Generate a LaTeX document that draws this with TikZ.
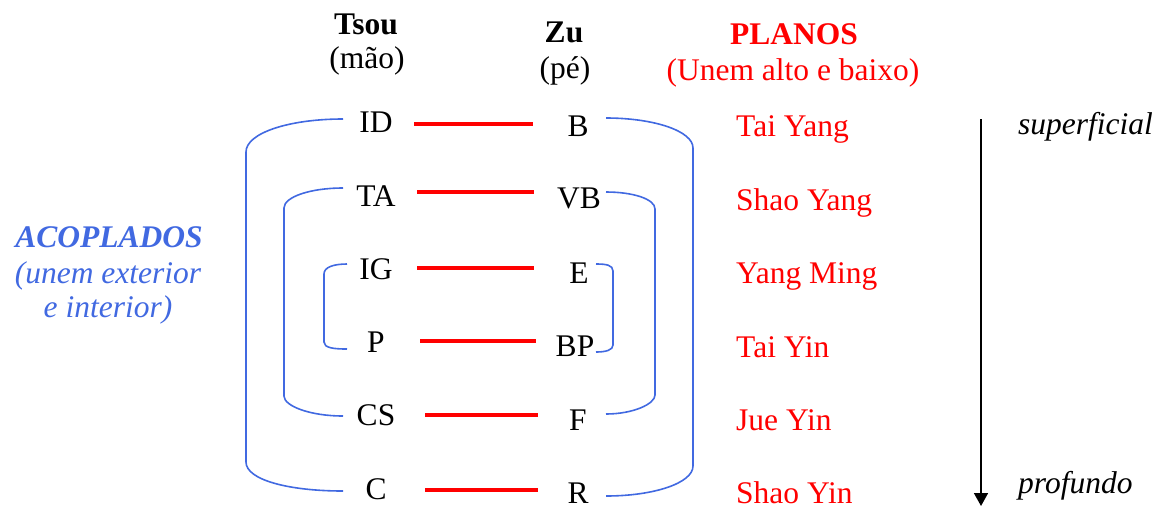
\documentclass[tikz,border=0pt]{standalone}
\usepackage{fontspec}
\setmainfont{Liberation Serif}
\usetikzlibrary{arrows.meta}
\definecolor{myblue}{RGB}{65,105,225}
\definecolor{myred}{RGB}{255,0,0}
\begin{document}
\begin{tikzpicture}[x=1pt,y=-1pt,
  every node/.style={inner sep=0pt,font=\fontsize{31.5}{36}\selectfont},
  lab/.style={anchor=base},
  plano/.style={anchor=base west,text=myred},
  redline/.style={draw=myred,line width=4.5pt},
  bracket/.style={draw=myblue,line width=1.6pt},
  depth/.style={draw=black,line width=1.6pt,-{Triangle[width=14pt,length=13pt]}}]
\useasboundingbox (0,0) rectangle (1166,507);
% headers
\node[lab,font=\fontsize{31.5}{36}\selectfont\bfseries] (tsou) at (366,34) {Tsou};
\node[lab] (mao) at (367,68) {(mão)};
\node[lab,font=\fontsize{31.5}{36}\selectfont\bfseries] (zu) at (564,42) {Zu};
\node[lab] (pe) at (565,78) {(pé)};
\node[lab,text=myred,font=\fontsize{31.5}{36}\selectfont\bfseries] (planos) at (794,44) {PLANOS};
\node[lab,text=myred] (unem) at (793,80) {(Unem alto e baixo)};
% left column
\node[lab] (ID) at (376,132) {ID};
\node[lab] (TA) at (376,206) {TA};
\node[lab] (IG) at (376,279) {IG};
\node[lab] (P) at (376,352) {P};
\node[lab] (CS) at (376,425) {CS};
\node[lab] (C) at (376,499) {C};
% right column
\node[lab] (B) at (578,136) {B};
\node[lab] (VB) at (579,208) {VB};
\node[lab] (E) at (579,283) {E};
\node[lab] (BP) at (575,356) {BP};
\node[lab] (F) at (578,430) {F};
\node[lab] (R) at (578,503) {R};
% planos
\node[plano] (p1) at (736,136) {Tai Yang};
\node[plano] (p2) at (736,210) {Shao Yang};
\node[plano] (p3) at (736,283) {Yang Ming};
\node[plano] (p4) at (736,357) {Tai Yin};
\node[plano] (p5) at (736,430) {Jue Yin};
\node[plano] (p6) at (736,503) {Shao Yin};
% acoplados
\node[lab,text=myblue,font=\fontsize{31.5}{36}\selectfont\bfseries\itshape] (acop) at (109,247) {ACOPLADOS};
\node[lab,text=myblue,font=\fontsize{31.5}{36}\selectfont\itshape] (acop2) at (108,283) {(unem exterior};
\node[lab,text=myblue,font=\fontsize{31.5}{36}\selectfont\itshape] (acop3) at (108,317) {e interior)};
% depth labels
\node[anchor=base west,font=\fontsize{31.5}{36}\selectfont\itshape] (sup) at (1018,134) {superficial};
\node[anchor=base west,font=\fontsize{31.5}{36}\selectfont\itshape] (prof) at (1018,493) {profundo};
% red connectors
\coordinate (r1a) at (414,124); \coordinate (r1b) at (533,124);
\coordinate (r2a) at (417,192); \coordinate (r2b) at (534,192);
\coordinate (r3a) at (417,268); \coordinate (r3b) at (534,268);
\coordinate (r4a) at (420,341); \coordinate (r4b) at (536,341);
\coordinate (r5a) at (425,415); \coordinate (r5b) at (538,415);
\coordinate (r6a) at (425,490); \coordinate (r6b) at (538,490);
\draw[redline] (r1a) -- (r1b);
\draw[redline] (r2a) -- (r2b);
\draw[redline] (r3a) -- (r3b);
\draw[redline] (r4a) -- (r4b);
\draw[redline] (r5a) -- (r5b);
\draw[redline] (r6a) -- (r6b);
% left brackets
\draw[bracket] (343,119) .. controls (289,119) and (246,133) .. (246,152) -- (246,462) .. controls (246,480) and (289,491) .. (343,491);
\draw[bracket] (343,188) .. controls (310,188) and (284,197) .. (284,208) -- (284,396) .. controls (284,406) and (310,416) .. (343,416);
\draw[bracket] (347,264) .. controls (334,264) and (324,267) .. (324,274) -- (324,342) .. controls (324,348) and (334,349) .. (347,349);
% right brackets
\draw[bracket] (606,118) .. controls (654,118) and (693,131) .. (693,148) -- (693,466) .. controls (693,483) and (654,496) .. (606,496);
\draw[bracket] (606,192) .. controls (633,192) and (655,199) .. (655,209) -- (655,395) .. controls (655,404) and (633,414) .. (606,414);
\draw[bracket] (596,264) .. controls (606,264) and (613,265) .. (613,271) -- (613,345) .. controls (613,350) and (606,352) .. (596,352);
% depth arrow
\coordinate (atop) at (981,119);
\coordinate (abot) at (981,506);
\draw[depth] (atop) -- (abot);
\end{tikzpicture}
\end{document}
